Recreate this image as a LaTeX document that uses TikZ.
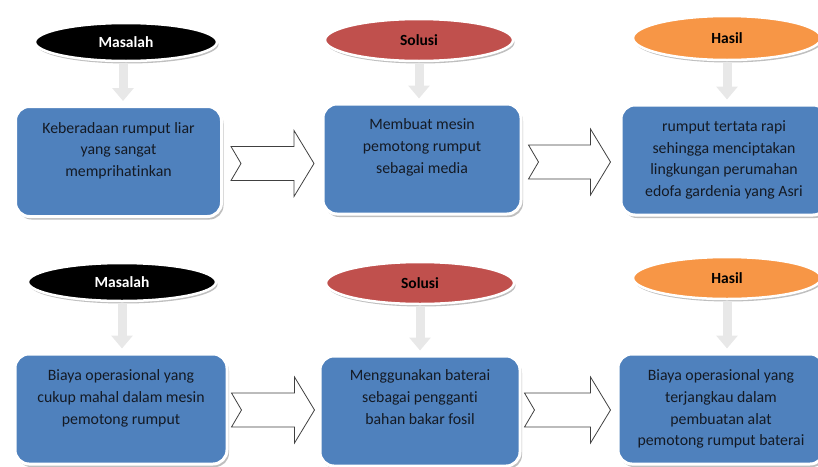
\documentclass[tikz,border=0pt]{standalone}
\usepackage{fontspec}
\setmainfont{Carlito}[Ligatures={NoCommon,NoRare}]
\usetikzlibrary{shapes.geometric,shadows,arrows.meta,calc}
\definecolor{boxblue}{HTML}{4F81BD}
\definecolor{solred}{HTML}{C0504D}
\definecolor{hasorange}{HTML}{F79646}
\definecolor{arrgrey}{HTML}{E8E8E8}
\definecolor{txtdark}{HTML}{141A24}
\begin{document}
\begin{tikzpicture}[x=1pt,y=-1pt,
  oval/.style={ellipse, draw=white, line width=2.5pt, minimum width=182pt, minimum height=38pt,
    font=\bfseries\fontsize{15.5}{17}\selectfont,
    drop shadow={shadow xshift=1.5pt, shadow yshift=-2.5pt, fill=black, opacity=0.25}},
  panel/.style={rectangle, rounded corners=14pt, draw=white, line width=3pt, fill=boxblue,
    minimum width=206pt, minimum height=110pt,
    drop shadow={shadow xshift=2pt, shadow yshift=-3pt, fill=black, opacity=0.25}},
  boxtext/.style={align=center, text=txtdark, inner sep=0pt, anchor=north,
    font=\fontsize{15.8}{21.7}\selectfont},
  downarr/.style={draw=arrgrey, line width=9pt, -{Triangle[length=13pt,width=21pt]}, shorten >=4pt, shorten <=1pt},
  blockarrow/.style={draw=black!75, line width=0.8pt, fill=white},
  pics/barrow/.style={code={
    \draw[blockarrow] (0,-17) -- (#1-20,-17) -- (#1-20,-33) -- (#1,0) -- (#1-20,33)
      -- (#1-20,17) -- (0,17) -- (10,0) -- cycle;}}
]
\useasboundingbox (0,0) rectangle (818,466);
\begin{scope}
\clip (0,0) rectangle (818,466);
% ---------- top row ----------
\node[oval, fill=black, text=white] (e1) at (126,42) {Masalah};
\node[oval, fill=solred, text=black, minimum width=188pt, minimum height=42pt] (e2) at (419,40) {Solusi};
\node[oval, fill=hasorange, text=black, minimum width=188pt, minimum height=44pt] (e3) at (727,38) {Hasil};

\node[panel] (b1) at (118.5,161.5) {};
\node[panel, minimum width=198pt] (b2) at (422,159) {};
\node[panel] (b3) at (724,160) {};

\node[boxtext] (t1) at ($(b1.north)+(0,17)$) {Keberadaan rumput liar\\yang sangat\\memprihatinkan};
\node[boxtext] (t2) at ($(b2.north)+(0,16)$) {Membuat mesin\\pemotong rumput\\sebagai media};
\node[boxtext] (t3) at ($(b3.north)+(0,17)$) {rumput tertata rapi\\sehingga menciptakan\\lingkungan perumahan\\edofa gardenia yang Asri};

\draw[downarr] ([xshift=-3pt]e1.south) -- ([xshift=-3pt]e1.south |- b1.north);
\draw[downarr] (e2.south) -- (e2.south |- b2.north);
\draw[downarr] (e3.south) -- (e3.south |- b3.north);

\pic at ($(b1.east)+(8,2)$) {barrow=83};
\pic at ($(b2.east)+(6,3)$) {barrow=82};

% ---------- bottom row ----------
\node[oval, fill=black, text=white, minimum width=188pt] (e4) at (122,282) {Masalah};
\node[oval, fill=solred, text=black, minimum width=188pt, minimum height=42pt] (e5) at (420,283) {Solusi};
\node[oval, fill=hasorange, text=black, minimum width=188pt, minimum height=42pt] (e6) at (727,278) {Hasil};

\node[panel, minimum width=212pt] (b4) at (121,409) {};
\node[panel, minimum width=200pt] (b5) at (420,411) {};
\node[panel, minimum width=206pt] (b6) at (721,409) {};

\node[boxtext] (t4) at ($(b4.north)+(0,17)$) {Biaya operasional yang\\cukup mahal dalam mesin\\pemotong rumput};
\node[boxtext] (t5) at ($(b5.north)+(0,15)$) {Menggunakan baterai\\sebagai pengganti\\bahan bakar fosil};
\node[boxtext] (t6) at ($(b6.north)+(0,17)$) {Biaya operasional yang\\terjangkau dalam\\pembuatan alat\\pemotong rumput baterai};

\draw[downarr] (e4.south) -- (e4.south |- b4.north);
\draw[downarr] (e5.south) -- (e5.south |- b5.north);
\draw[downarr] (e6.south) -- (e6.south |- b6.north);

\pic at ($(b4.east)+(3,1)$) {barrow=83};
\pic at ($(b5.east)+(3,-1)$) {barrow=86};
\end{scope}
\end{tikzpicture}
\end{document}
